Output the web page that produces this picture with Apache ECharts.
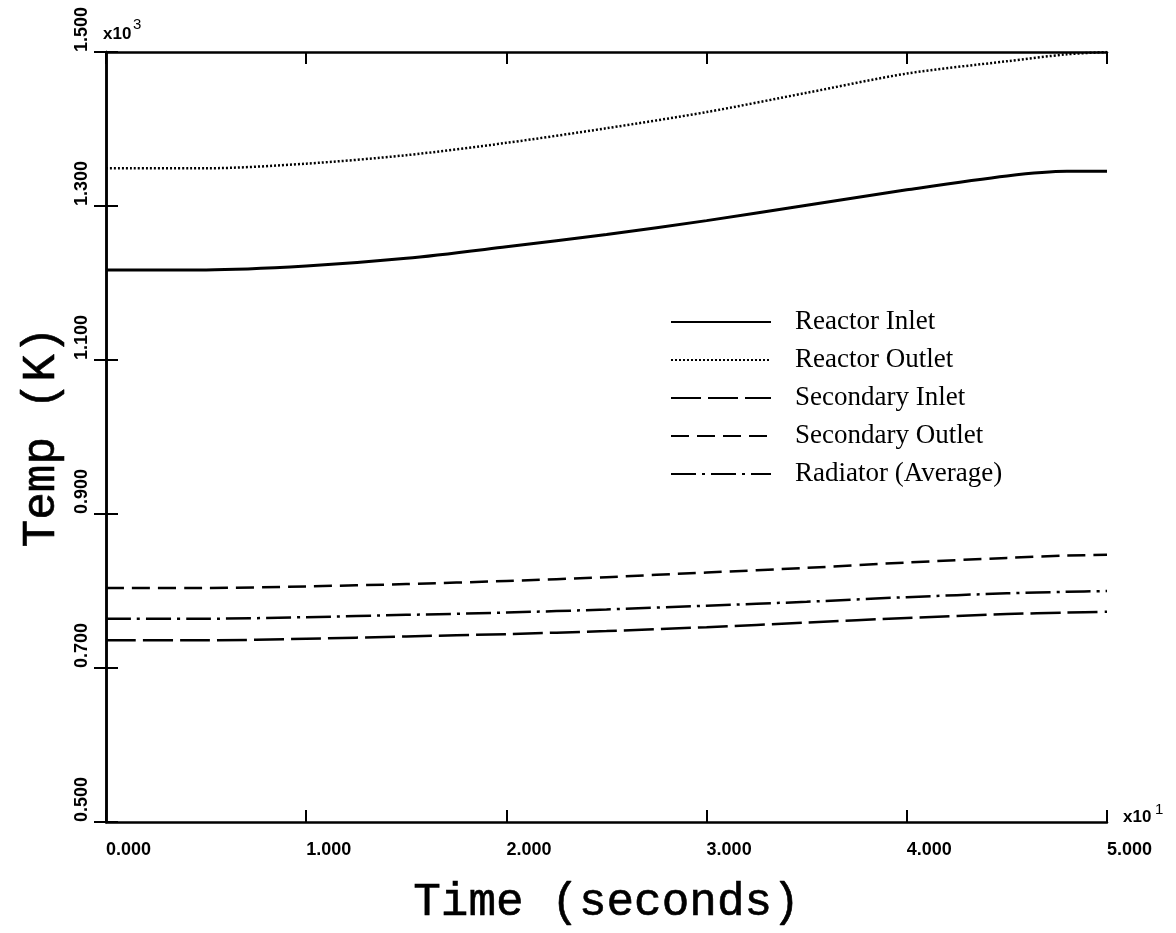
<!DOCTYPE html>
<html>
<head>
<meta charset="utf-8">
<script src="https://cdn.jsdelivr.net/npm/echarts@6/dist/echarts.min.js"></script>
<style>
  html, body { margin: 0; padding: 0; background: #fff; }
  #main { width: 1176px; height: 933px; }
</style>
</head>
<body>
<div id="main"></div>
<script>
// time in units of x10^1 s, temperatures in units of x10^3 K
const timeVals = [0, 0.5, 1.0, 1.5, 2.0, 2.5, 3.0, 3.5, 4.0, 4.5, 4.8, 5.0];
const reactorInlet = [1.217, 1.217, 1.222, 1.232, 1.247, 1.263, 1.281, 1.301, 1.321, 1.339, 1.345, 1.345];
const reactorOutlet = [1.349, 1.349, 1.355, 1.366, 1.382, 1.401, 1.422, 1.447, 1.472, 1.488, 1.497, 1.500];
const secondaryInlet = [0.736, 0.736, 0.738, 0.741, 0.744, 0.748, 0.753, 0.759, 0.765, 0.770, 0.772, 0.773];
const secondaryOutlet = [0.804, 0.804, 0.806, 0.809, 0.813, 0.818, 0.824, 0.830, 0.837, 0.843, 0.846, 0.847];
const radiatorAvg = [0.764, 0.764, 0.766, 0.769, 0.772, 0.776, 0.781, 0.786, 0.792, 0.797, 0.799, 0.800];
const seriesNames = ["Reactor Inlet", "Reactor Outlet", "Secondary Inlet", "Secondary Outlet", "Radiator (Average)"];
const xTickLabels = ["0.000", "1.000", "2.000", "3.000", "4.000", "5.000"];
const yTickLabels = ["0.500", "0.700", "0.900", "1.100", "1.300", "1.500"];

const pairs = (ys) => timeVals.map((t, i) => [t, ys[i]]);

let myChart = echarts.init(document.getElementById("main"));

const tickFont = { fontFamily: "Liberation Sans", fontWeight: "bold", fontSize: 18, color: "#000" };
const titleFont = { fontFamily: "Liberation Mono", fontSize: 46, color: "#000", textBorderColor: "#000", textBorderWidth: 0.6 };

function lineSeries(name, data, type, width) {
  return {
    name: name,
    type: "line",
    data: pairs(data),
    smooth: 0.3,
    symbol: "none",
    lineStyle: { color: "#000", width: width, type: type },
    itemStyle: { color: "#000" },
  };
}

let option = {
  backgroundColor: "#fff",
  animation: false,
  grid: { left: 106, right: 69, top: 52, bottom: 111, outerBoundsMode: "none", containLabel: false },
  xAxis: [
    {
      type: "value", min: 0, max: 5, interval: 1,
      axisLine: { lineStyle: { color: "#000", width: 2.5 } },
      axisTick: { inside: true, length: 12, lineStyle: { color: "#000", width: 2 } },
      splitLine: { show: false },
      axisLabel: Object.assign({ align: "left", margin: 19, formatter: (v) => xTickLabels[Math.round(v)] }, tickFont),
      name: "Time (seconds)", nameLocation: "middle", nameGap: 58,
      nameTextStyle: titleFont,
    },
    {
      type: "value", min: 0, max: 5, interval: 1, position: "top",
      axisLine: { lineStyle: { color: "#000", width: 2.5 } },
      axisTick: { inside: true, length: 12, lineStyle: { color: "#000", width: 2 } },
      axisLabel: { show: false }, splitLine: { show: false },
    },
  ],
  yAxis: [
    {
      type: "value", min: 0.5, max: 1.5, interval: 0.2,
      axisLine: { lineStyle: { color: "#000", width: 2.5 } },
      axisTick: { inside: true, length: 12, lineStyle: { color: "#000", width: 2 } },
      splitLine: { show: false },
      axisLabel: Object.assign({
        rotate: 90, align: "left", verticalAlign: "middle", margin: 24,
        formatter: (v) => yTickLabels[Math.round((v - 0.5) / 0.2)],
      }, tickFont),
      name: "Temp (K)", nameLocation: "middle", nameGap: 40,
      nameTextStyle: titleFont,
    },
    {
      type: "value", min: 0.5, max: 1.5, interval: 0.2, position: "right",
      axisLine: { lineStyle: { color: "#000", width: 2.5 } },
      axisTick: { inside: true, length: 12, lineStyle: { color: "#000", width: 2 } },
      axisLabel: { show: false }, splitLine: { show: false },
    },
  ],
  legend: {
    data: seriesNames,
    orient: "vertical",
    left: 665,
    top: 302,
    itemWidth: 100,
    itemHeight: 14,
    itemGap: 8,
    itemStyle: { opacity: 0, borderWidth: 0 },
    textStyle: { fontFamily: "Liberation Serif", fontSize: 27, color: "#000", lineHeight: 30, padding: [0, 0, 0, 19] },
  },
  graphic: [
    { type: "text", left: 103, top: 26, style: { text: "x10", font: "bold 17px Liberation Sans", fill: "#000" } },
    { type: "text", left: 133, top: 17, style: { text: "3", font: "15px Liberation Sans", fill: "#000" } },
    { type: "text", left: 1123, top: 809, style: { text: "x10", font: "bold 17px Liberation Sans", fill: "#000" } },
    { type: "text", left: 1155, top: 802, style: { text: "1", font: "15px Liberation Sans", fill: "#000" } },
  ],
  series: [
    lineSeries(seriesNames[0], reactorInlet, "solid", 3),
    lineSeries(seriesNames[1], reactorOutlet, [2, 2], 2.5),
    lineSeries(seriesNames[2], secondaryInlet, [30, 7], 2.5),
    lineSeries(seriesNames[3], secondaryOutlet, [18, 8], 2.5),
    lineSeries(seriesNames[4], radiatorAvg, [25, 6, 3, 6], 2.5),
  ],
};

option && myChart.setOption(option);
</script>
</body>
</html>
